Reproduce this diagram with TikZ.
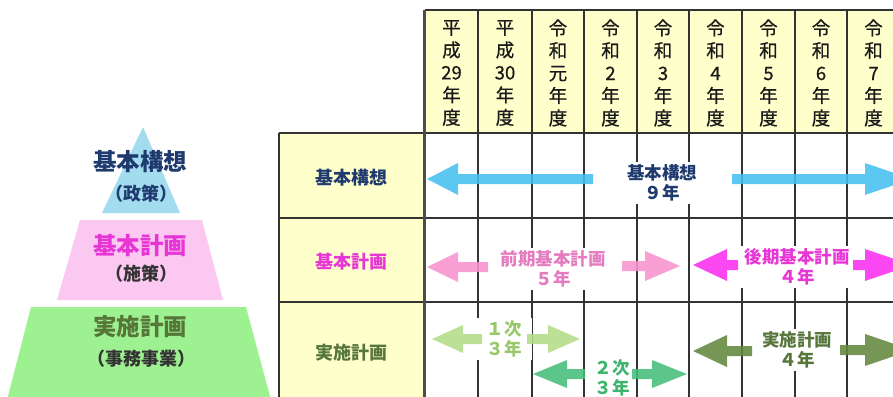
\documentclass[tikz,border=0pt]{standalone}
\usepackage{fontspec}
\newfontfamily\jp{Noto Sans CJK JP}
\newfontfamily\jph{Noto Sans CJK JP}[FakeBold=0.6]
\definecolor{hdrfill}{HTML}{FFFFCC}
\definecolor{navy}{HTML}{1F3A6E}
\definecolor{mag}{HTML}{E835D5}
\definecolor{pinktxt}{HTML}{E57CC0}
\definecolor{olivetxt}{HTML}{56763A}
\definecolor{ltgreentxt}{HTML}{98C86A}
\definecolor{medgreentxt}{HTML}{3DB56E}
\definecolor{pyrblue}{HTML}{A3DBEF}
\definecolor{pyrpink}{HTML}{FAC8F0}
\definecolor{pyrgreen}{HTML}{9EF190}
\definecolor{arrblue}{HTML}{45BFEE}
\definecolor{arrpink}{HTML}{F792CE}
\definecolor{arrmag}{HTML}{FB2EF0}
\definecolor{arrltgreen}{HTML}{B2DC88}
\definecolor{arrmedgreen}{HTML}{45BE7A}
\definecolor{arrolive}{HTML}{62883E}
\newcommand\barr[6]{\fill[#6] (#1,#4) -- (#2,#4-#5) -- (#2,#4-5) -- (#3,#4-5) -- (#3,#4+5) -- (#2,#4+5) -- (#2,#4+#5) -- cycle;}
\tikzset{
  hdr/.style={font=\jph\fontsize{18.5}{22.5}\selectfont, align=center, text=black!90, inner sep=0pt},
  lbl/.style={font=\jp\bfseries\fontsize{17.5}{20.5}\selectfont, align=center, fill=white, inner xsep=4pt, inner ysep=2pt},
  pyr/.style={font=\jp\bfseries\fontsize{23.5}{26}\selectfont},
  pyrs/.style={font=\jp\bfseries\fontsize{18}{20}\selectfont},
  rowlbl/.style={font=\jp\bfseries\fontsize{18}{20}\selectfont},
  gridline/.style={draw=black!80, line width=1.2pt},
  arr/.style={fill opacity=0.88},
}
\begin{document}
\begin{tikzpicture}[x=1pt,y=-1pt]
\useasboundingbox (0,0) rectangle (893,396);
\clip (0,0) rectangle (893,396);
% pyramid
\fill[pyrblue] (143,127) -- (180,213) -- (102,213) -- cycle;
\fill[pyrpink] (80,220) -- (202,220) -- (223,300) -- (57,300) -- cycle;
\fill[pyrgreen] (31,307) -- (246,307) -- (271,400) -- (7,400) -- cycle;
\node[pyr, text=navy] (p1) at (140,162) {基本構想};
\node[pyrs, text=navy] (p1s) at (141,194) {（政策）};
\node[pyr, text=mag] (p2) at (140,246) {基本計画};
\node[pyrs, text=black!80] (p2s) at (141,274) {（施策）};
\node[pyr, text=olivetxt] (p3) at (140,327) {実施計画};
\node[pyrs, text=black!80] (p3s) at (141,359) {（事務事業）};
% header
\fill[hdrfill] (425,10) rectangle (900,133);
\fill[hdrfill] (279,133) rectangle (424,400);
\draw[gridline] (425,10) -- (900,10);
\draw[gridline] (279,133) -- (900,133);
\draw[gridline] (279,218) -- (900,218);
\draw[gridline] (279,302) -- (900,302);
\draw[gridline] (279,133) -- (279,400);
\draw[line width=2.2pt, draw=black!70] (424.5,10) -- (424.5,400);
\foreach \x in {478,532,584,637,689,742,795,847}{
  \draw[gridline] (\x,10) -- (\x,400);
}
\node[hdr] (h1) at (451.5,73) {平\\成\\29\\年\\度};
\node[hdr] (h2) at (505,73) {平\\成\\30\\年\\度};
\node[hdr] (h3) at (558,73) {令\\和\\元\\年\\度};
\node[hdr] (h4) at (610.5,73) {令\\和\\2\\年\\度};
\node[hdr] (h5) at (663,73) {令\\和\\3\\年\\度};
\node[hdr] (h6) at (715.5,73) {令\\和\\4\\年\\度};
\node[hdr] (h7) at (768.5,73) {令\\和\\5\\年\\度};
\node[hdr] (h8) at (821,73) {令\\和\\6\\年\\度};
\node[hdr] (h9) at (873.5,73) {令\\和\\7\\年\\度};
% row labels
\node[rowlbl, text=navy] (r1) at (351,178) {基本構想};
\node[rowlbl, text=mag] (r2) at (351,262) {基本計画};
\node[rowlbl, text=olivetxt] (r3) at (351,353) {実施計画};
% arrow labels
\node[lbl, text=navy] (a1) at (662,183) {基本構想\\９年};
\node[lbl, text=pinktxt] (a2) at (553,269) {前期基本計画\\５年};
\node[lbl, text=mag] (a3) at (797,267) {後期基本計画\\４年};
\node[lbl, text=ltgreentxt, inner xsep=10pt] (a4) at (504,339) {１次\\３年};
\node[lbl, text=medgreentxt] (a5) at (612,378) {２次\\３年};
\node[lbl, text=olivetxt] (a6) at (797,350) {実施計画\\４年};
% arrows
\barr{427}{458}{593}{179}{16}{arr, arrblue}
\barr{912}{865}{732}{179}{16}{arr, arrblue}
\barr{427}{458}{488}{267}{15}{arr, arrpink}
\barr{680}{645}{622}{266}{15}{arr, arrpink}
\barr{693}{727}{738}{265}{16}{arr, arrmag}
\barr{912}{865}{853}{265}{16}{arr, arrmag}
\barr{432}{463}{482}{339}{14}{arr, arrltgreen}
\barr{580}{548}{527}{339}{14}{arr, arrltgreen}
\barr{533}{567}{585}{374}{14}{arr, arrmedgreen}
\barr{687}{652}{632}{374}{14}{arr, arrmedgreen}
\barr{693}{727}{752}{351}{16}{arr, arrolive}
\barr{912}{865}{840}{350}{16}{arr, arrolive}
\end{tikzpicture}
\end{document}
